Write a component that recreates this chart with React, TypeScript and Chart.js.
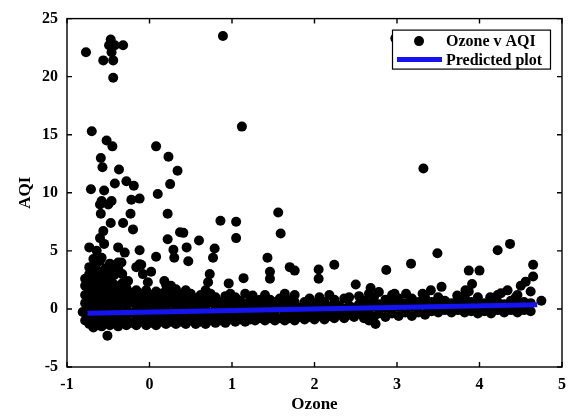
import { useEffect, useRef } from "react";
import { Chart, registerables } from "chart.js";

Chart.register(...registerables);

const xTicks = [-1, 0, 1, 2, 3, 4, 5];
const yTicks = [-5, 0, 5, 10, 15, 20, 25];
const seriesNames = ["Ozone v AQI", "Predicted plot"];
const xTitle = "Ozone";
const yTitle = "AQI";

// high outliers [ozone, aqi]
const highPoints: [number, number][] = [
  [-0.77, 22.1], [-0.47, 23.2], [-0.49, 22.7], [-0.42, 22.7], [-0.46, 22.1],
  [-0.56, 21.4], [-0.44, 21.4], [-0.44, 19.9], [-0.32, 22.7], [0.89, 23.5],
  [2.98, 23.3],
];

// mid-range points
const midPoints: [number, number][] = [
  [-0.70, 15.3], [1.12, 15.7], [-0.52, 14.5], [-0.45, 14.0], [0.08, 14.0],
  [-0.59, 13.0], [0.23, 13.1], [-0.57, 12.2], [-0.37, 12.0], [0.34, 11.9],
  [3.32, 12.1], [-0.42, 10.8], [-0.28, 11.0], [-0.19, 10.6], [0.25, 10.75],
  [-0.71, 10.3], [-0.55, 10.2], [0.10, 9.9], [-0.22, 9.4], [-0.12, 9.5],
  [-0.58, 9.3], [-0.46, 9.3], [-0.60, 9.0], [-0.50, 9.0], [-0.59, 8.2],
  [0.22, 8.2], [1.56, 8.3], [-0.23, 8.2], [-0.47, 7.4], [-0.32, 7.4],
  [0.86, 7.6], [1.05, 7.5], [-0.20, 6.85], [-0.56, 6.7], [0.37, 6.6],
  [1.59, 6.5], [-0.60, 6.1], [0.22, 6.0], [1.05, 6.1], [-0.55, 5.6],
  [0.60, 5.9], [-0.73, 5.3], [-0.64, 5.0], [-0.38, 5.3], [-0.30, 4.85],
  [-0.12, 5.05], [0.08, 4.5], [0.29, 5.1], [0.30, 4.4], [0.45, 5.3],
  [0.47, 4.1], [0.79, 5.2], [0.77, 4.4], [1.43, 4.4], [3.49, 4.8],
  [4.22, 5.05], [4.37, 5.6], [3.17, 3.9], [4.65, 3.8], [2.24, 3.8],
  [-0.60, 4.15], [-0.46, 3.4], [-0.34, 4.0], [-0.12, 3.85], [0.41, 6.55],
];

// lower scattered points
const lowPoints: [number, number][] = [
  [1.46, 3.2], [1.46, 2.6], [1.70, 3.6], [1.76, 3.3], [2.05, 3.4],
  [2.05, 2.6], [1.14, 2.65], [0.96, 2.2], [0.73, 3.0], [0.71, 2.3],
  [1.25, 1.15], [0.18, 2.4], [-0.26, 2.4], [-0.08, 3.0], [-0.02, 2.3],
  [2.50, 2.1], [2.68, 1.8], [2.78, 1.45], [2.87, 3.35], [3.54, 1.9],
  [3.41, 1.6], [3.31, 1.3], [2.97, 1.3], [3.11, 1.3], [3.87, 3.3],
  [4.00, 3.3], [3.91, 2.15], [3.83, 1.6], [3.73, 1.15], [3.87, 1.5],
  [4.65, 2.8], [4.56, 2.35], [4.50, 2.0], [4.34, 1.6], [4.26, 1.35],
  [4.13, 1.0], [4.44, 1.0], [4.75, 0.7], [2.74, -1.3], [-0.51, -2.3],
  [-0.81, -0.27],
];

// dense band
const bandPoints: [number, number][] = [
  [-0.78, -0.3], [-0.78, 0.5], [-0.78, 1.2], [-0.78, 2.0], [-0.78, 2.6], [-0.78, -1.0],
  [-0.73, -1.3], [-0.73, -0.6], [-0.73, 0.3], [-0.73, 1.0], [-0.73, 1.7], [-0.73, 2.4], [-0.73, 3.0], [-0.73, 3.6],
  [-0.68, -1.6], [-0.68, -0.9], [-0.68, 0.0], [-0.68, 0.8], [-0.68, 1.5], [-0.68, 2.2], [-0.68, 2.9], [-0.68, 3.7], [-0.68, 4.3],
  [-0.63, -1.2], [-0.63, -0.4], [-0.63, 0.4], [-0.63, 1.2], [-0.63, 1.9], [-0.63, 2.6], [-0.63, 3.3], [-0.63, 4.0],
  [-0.58, -1.5], [-0.58, -0.7], [-0.58, 0.1], [-0.58, 0.9], [-0.58, 1.6], [-0.58, 2.3], [-0.58, 3.2], [-0.58, 4.4],
  [-0.53, -1.0], [-0.53, -0.2], [-0.53, 0.6], [-0.53, 1.4], [-0.53, 2.0], [-0.53, 2.8], [-0.53, 3.5],
  [-0.48, -1.4], [-0.48, -0.6], [-0.48, 0.3], [-0.48, 1.1], [-0.48, 1.8], [-0.48, 2.5], [-0.48, 3.3], [-0.48, 3.9],
  [-0.43, -1.1], [-0.43, -0.3], [-0.43, 0.5], [-0.43, 1.3], [-0.43, 2.1], [-0.43, 2.9],
  [-0.38, -1.5], [-0.38, -0.7], [-0.38, 0.2], [-0.38, 1.0], [-0.38, 1.7], [-0.38, 3.5], [-0.38, 4.0],
  [-0.33, -1.2], [-0.33, -0.4], [-0.33, 0.5], [-0.33, 1.3], [-0.33, 2.2], [-0.33, 3.0],
  [-0.28, -1.4], [-0.28, -0.6], [-0.28, 0.3], [-0.28, 1.1], [-0.28, 1.8],
  [-0.22, -1.2], [-0.22, -0.3], [-0.22, 0.6], [-0.22, 1.4],
  [-0.16, -1.4], [-0.16, -0.7], [-0.16, 0.2], [-0.16, 1.0], [-0.16, 1.6], [-0.16, 3.6],
  [-0.10, -1.1], [-0.10, -0.3], [-0.10, 0.5], [-0.10, 1.3], [-0.10, 3.8],
  [-0.04, -1.4], [-0.04, -0.6], [-0.04, 0.2], [-0.04, 1.0], [-0.04, 1.6],
  [0.02, -1.2], [0.02, -0.4], [0.02, 0.4], [0.02, 1.2], [0.02, 3.2],
  [0.08, -1.4], [0.08, -0.7], [0.08, 0.1], [0.08, 0.9], [0.08, 1.5],
  [0.14, -1.1], [0.14, -0.3], [0.14, 0.5], [0.14, 1.3],
  [0.20, -1.3], [0.20, -0.6], [0.20, 0.2], [0.20, 1.0], [0.20, 1.6], [0.20, 2.1],
  [0.26, -1.1], [0.26, -0.3], [0.26, 0.6], [0.26, 1.3], [0.26, 2.0],
  [0.32, -1.3], [0.32, -0.6], [0.32, 0.2], [0.32, 0.9], [0.32, 1.7],
  [0.38, -1.1], [0.38, -0.3], [0.38, 0.5], [0.38, 1.3],
  [0.44, -1.3], [0.44, -0.6], [0.44, 0.3], [0.44, 1.0], [0.44, 1.6],
  [0.50, -1.0], [0.50, -0.2], [0.50, 0.6], [0.50, 1.3],
  [0.56, -1.3], [0.56, -0.5], [0.56, 0.2], [0.56, 0.9],
  [0.62, -1.1], [0.62, -0.3], [0.62, 0.5], [0.62, 1.2],
  [0.68, -1.3], [0.68, -0.6], [0.68, 0.2], [0.68, 1.0], [0.68, 1.6],
  [0.74, -1.0], [0.74, -0.3], [0.74, 0.6], [0.74, 1.3],
  [0.80, -1.2], [0.80, -0.5], [0.80, 0.3], [0.80, 1.0],
  [0.86, -1.0], [0.86, -0.2], [0.86, 0.6],
  [0.92, -1.2], [0.92, -0.5], [0.92, 0.3], [0.92, 1.1],
  [0.98, -0.9], [0.98, -0.2], [0.98, 0.6], [0.98, 1.3],
  [1.04, -1.1], [1.04, -0.4], [1.04, 0.3], [1.04, 1.0],
  [1.10, -0.9], [1.10, -0.1], [1.10, 0.7],
  [1.16, -1.1], [1.16, -0.4], [1.16, 0.4], [1.16, 1.3],
  [1.22, -0.9], [1.22, -0.1], [1.22, 0.7],
  [1.28, -1.0], [1.28, -0.3], [1.28, 0.4],
  [1.34, -0.8], [1.34, 0.0], [1.34, 0.8],
  [1.40, -1.0], [1.40, -0.3], [1.40, 0.5], [1.40, 1.2],
  [1.46, -0.8], [1.46, 0.0], [1.46, 0.8],
  [1.52, -1.0], [1.52, -0.2], [1.52, 0.6],
  [1.58, -0.8], [1.58, 0.1], [1.58, 0.9],
  [1.64, -1.0], [1.64, -0.3], [1.64, 0.5], [1.64, 1.3],
  [1.70, -0.8], [1.70, 0.0], [1.70, 0.8],
  [1.76, -1.0], [1.76, -0.2], [1.76, 0.6], [1.76, 1.2],
  [1.82, -0.7], [1.82, 0.1],
  [1.88, -0.9], [1.88, -0.2], [1.88, 0.6],
  [1.94, -0.7], [1.94, 0.1], [1.94, 0.9],
  [2.00, -0.9], [2.00, -0.2], [2.00, 0.5],
  [2.06, -0.6], [2.06, 0.2], [2.06, 1.0],
  [2.12, -0.9], [2.12, -0.1], [2.12, 0.6],
  [2.18, -0.6], [2.18, 0.2], [2.18, 1.2],
  [2.24, -0.8], [2.24, 0.0], [2.24, 0.8],
  [2.30, -0.5], [2.30, 0.3],
  [2.36, -0.8], [2.36, 0.0], [2.36, 0.9],
  [2.42, -0.5], [2.42, 0.3], [2.42, 1.0],
  [2.48, -0.7], [2.48, 0.1],
  [2.54, -0.4], [2.54, 0.4], [2.54, 1.1],
  [2.60, -0.8], [2.60, 0.0], [2.60, 0.7],
  [2.66, -1.0], [2.66, -0.3], [2.66, 0.5], [2.66, 1.3],
  [2.72, -0.7], [2.72, 0.2], [2.72, 1.0],
  [2.78, -0.4], [2.78, 0.4],
  [2.86, -0.7], [2.86, 0.1], [2.86, 0.8],
  [2.94, -0.4], [2.94, 0.5], [2.94, 1.2],
  [3.02, -0.6], [3.02, 0.2], [3.02, 0.9],
  [3.10, -0.3], [3.10, 0.5],
  [3.18, -0.6], [3.18, 0.2], [3.18, 0.9],
  [3.26, -0.3], [3.26, 0.6],
  [3.34, -0.5], [3.34, 0.3], [3.34, 1.0],
  [3.42, -0.2], [3.42, 0.6],
  [3.50, -0.3], [3.50, 0.4], [3.50, 1.0],
  [3.58, -0.1], [3.58, 0.7],
  [3.66, -0.3], [3.66, 0.5],
  [3.74, -0.1], [3.74, 0.8],
  [3.82, -0.3], [3.82, 0.4], [3.82, 1.1],
  [3.90, -0.2], [3.90, 0.6],
  [3.98, -0.4], [3.98, 0.3], [3.98, 1.0],
  [4.06, -0.2], [4.06, 0.5],
  [4.14, -0.4], [4.14, 0.3],
  [4.22, -0.1], [4.22, 0.6], [4.22, 1.2],
  [4.30, -0.3], [4.30, 0.4],
  [4.38, -0.1], [4.38, 0.7],
  [4.46, -0.3], [4.46, 0.4], [4.46, 1.2],
  [4.54, -0.1], [4.54, 0.6],
  [4.62, -0.2], [4.62, 0.5], [4.62, 1.5],
];

const predictedOzone = [-0.75, 4.7];
const predictedAqi = [-0.37, 0.37];

const SERIF = '"Liberation Serif", "Times New Roman", serif';
const LINE_BLUE = "#1414f0";
const DOT_RADIUS = 5;

const framePlugin = {
  id: "matlabFrame",
  afterDatasetsDraw(chart: any) {
    const { ctx, chartArea, scales } = chart;
    const { left, right, top, bottom } = chartArea;
    const xs = scales.x;
    const ys = scales.y;
    ctx.save();
    ctx.strokeStyle = "#000";
    ctx.lineWidth = 1.4;
    ctx.strokeRect(left, top, right - left, bottom - top);
    ctx.beginPath();
    for (const v of xTicks) {
      const px = xs.getPixelForValue(v);
      ctx.moveTo(px, bottom);
      ctx.lineTo(px, bottom - 5);
      ctx.moveTo(px, top);
      ctx.lineTo(px, top + 5);
    }
    for (const v of yTicks) {
      const py = ys.getPixelForValue(v);
      ctx.moveTo(left, py);
      ctx.lineTo(left + 5, py);
      ctx.moveTo(right, py);
      ctx.lineTo(right - 5, py);
    }
    ctx.stroke();

    // legend box
    const bw = 158;
    const bh = 39;
    const bx = right - 170;
    const by = top + 11;
    ctx.fillStyle = "#fff";
    ctx.fillRect(bx, by, bw, bh);
    ctx.lineWidth = 1.2;
    ctx.strokeStyle = "#000";
    ctx.strokeRect(bx + 0.5, by + 0.5, bw, bh);

    const r1 = by + 11.5;
    const r2 = by + 30;
    ctx.fillStyle = "#000";
    ctx.beginPath();
    ctx.arc(bx + 27, r1, DOT_RADIUS, 0, Math.PI * 2);
    ctx.fill();
    ctx.strokeStyle = LINE_BLUE;
    ctx.lineWidth = 5;
    ctx.beginPath();
    ctx.moveTo(bx + 5, r2);
    ctx.lineTo(bx + 50, r2);
    ctx.stroke();

    ctx.fillStyle = "#000";
    ctx.font = `bold 16px ${SERIF}`;
    ctx.textBaseline = "middle";
    ctx.textAlign = "left";
    ctx.fillText(seriesNames[0], bx + 54, r1 + 1);
    ctx.fillText(seriesNames[1], bx + 54, r2 + 1);
    ctx.restore();
  },
};

export default function App() {
  const ref = useRef<HTMLCanvasElement | null>(null);

  useEffect(() => {
    if (!ref.current) return;
    const allPoints = [...highPoints, ...midPoints, ...lowPoints, ...bandPoints].map(
      ([x, y]) => ({ x, y })
    );
    const linePoints = predictedOzone.map((x, i) => ({ x, y: predictedAqi[i] }));
    const chart = new Chart(ref.current, {
      type: "scatter",
      data: {
        datasets: [
          {
            label: seriesNames[1],
            type: "line",
            data: linePoints,
            borderColor: LINE_BLUE,
            backgroundColor: LINE_BLUE,
            borderWidth: 5,
            pointRadius: 0,
            showLine: true,
            fill: false,
            order: 0,
          } as any,
          {
            label: seriesNames[0],
            data: allPoints,
            backgroundColor: "#000",
            borderWidth: 0,
            pointRadius: DOT_RADIUS,
            pointHoverRadius: DOT_RADIUS,
            order: 1,
          },
        ],
      },
      options: {
        responsive: false,
        animation: false,
        events: [],
        layout: { padding: { top: 16, right: 11, left: 0, bottom: 0 } },
        plugins: {
          legend: { display: false },
          tooltip: { enabled: false },
        },
        scales: {
          x: {
            type: "linear",
            min: -1,
            max: 5,
            afterBuildTicks: (s: any) => {
              s.ticks = xTicks.map((v) => ({ value: v }));
            },
            afterFit: (s: any) => {
              s.height = 50;
            },
            ticks: {
              color: "#000",
              padding: 8,
              font: { family: SERIF, weight: "bold", size: 16 },
            },
            grid: { display: false, drawTicks: false },
            border: { display: false },
            title: {
              display: true,
              text: xTitle,
              color: "#000",
              font: { family: SERIF, weight: "bold", size: 17 },
              padding: { top: 0, bottom: 2 },
            },
          },
          y: {
            type: "linear",
            min: -5,
            max: 25,
            afterBuildTicks: (s: any) => {
              s.ticks = yTicks.map((v) => ({ value: v }));
            },
            afterFit: (s: any) => {
              s.width = 67;
            },
            ticks: {
              color: "#000",
              padding: 9,
              font: { family: SERIF, weight: "bold", size: 16 },
            },
            grid: { display: false, drawTicks: false },
            border: { display: false },
            title: {
              display: true,
              text: yTitle,
              color: "#000",
              font: { family: SERIF, weight: "bold", size: 17 },
              padding: { top: 15, bottom: 0 },
            },
          },
        },
      } as any,
      plugins: [framePlugin],
    });
    return () => chart.destroy();
  }, []);

  return (
    <div style={{ position: "absolute", left: 0, top: 0, width: 574, height: 417, background: "#fff" }}>
      <canvas ref={ref} width={574} height={417} />
    </div>
  );
}
